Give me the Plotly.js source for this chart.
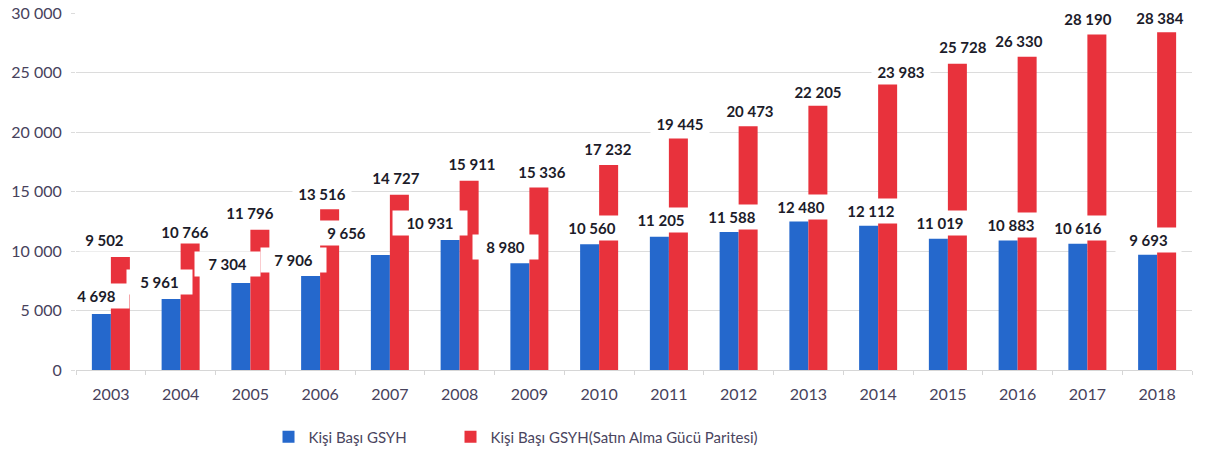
<!DOCTYPE html>
<html>
<head>
<meta charset="utf-8">
<script src="https://cdn.plot.ly/plotly-3.0.1.min.js"></script>
<style>
  html, body { margin: 0; padding: 0; background: #ffffff; }
  #chart { width: 1208px; height: 457px; }
</style>
</head>
<body>
<div id="chart"></div>
<script>
// ---- data ----
var years = ['2003','2004','2005','2006','2007','2008','2009','2010','2011','2012','2013','2014','2015','2016','2017','2018'];
var gsyh = [4698, 5961, 7304, 7906, 9656, 10931, 8980, 10560, 11205, 11588, 12480, 12112, 11019, 10883, 10616, 9693];
var gsyhSAGP = [9502, 10766, 11796, 13516, 14727, 15911, 15336, 17232, 19445, 20473, 22205, 23983, 25728, 26330, 28190, 28384];
var seriesNames = ['Kişi Başı GSYH', 'Kişi Başı GSYH(Satın Alma Gücü Paritesi)'];

// ---- label placement (pixel offsets from category centre / bar top) ----
var blueDx = [-14, -21, -23, -27, -43, -30, -24, -7, -8, -7, -7, -7, -8, -7, -9, -9];
var blueDy = [18, 17, 19, 16, 22, 17, 16, 16, 17, 15, 14, 15, 16, 15, 16, 15];
var redDx  = [-6, 4, 0, 2, 6, 12, 13, 9, 11, 11, 10, 23, 15, 1, 1, 3];
var redDy  = [17, 10, 17, 16, 17, 17, 16, 16, 15, 16, 14, 13, 17, 16, 16, 15];

var BLUE = '#2568CC';
var RED = '#E8323C';
var LABEL_FONT = {family: 'Lato, "Liberation Sans", sans-serif', size: 15, color: '#1c1c2a', weight: 700};

function fmt(v) { return String(v).replace(/\B(?=(\d{3})+(?!\d))/g, ' '); }
function textW(s) {
  var w = 0;
  for (var k = 0; k < s.length; k++) w += (s[k] === ' ') ? 3.2 : 8.8;
  return Math.ceil(w);
}

var traces = [
  {type: 'bar', name: seriesNames[0], x: years, y: gsyh, marker: {color: BLUE}, hoverinfo: 'x+y', legendwidth: 137},
  {type: 'bar', name: seriesNames[1], x: years, y: gsyhSAGP, marker: {color: RED}, hoverinfo: 'x+y'}
];

var annotations = [];
for (var i = 0; i < years.length; i++) {
  var rt = fmt(gsyhSAGP[i]);
  annotations.push({
    x: i, y: gsyhSAGP[i], xref: 'x', yref: 'y',
    text: rt, showarrow: false, xanchor: 'center', yanchor: 'middle',
    xshift: redDx[i], yshift: redDy[i],
    font: LABEL_FONT, bgcolor: '#ffffff', borderpad: 2,
    width: textW(rt) + 6, height: 19
  });
}
for (var j = 0; j < years.length; j++) {
  var bt = fmt(gsyh[j]);
  annotations.push({
    x: j, y: gsyh[j], xref: 'x', yref: 'y',
    text: bt, showarrow: false, xanchor: 'center', yanchor: 'middle',
    xshift: blueDx[j], yshift: blueDy[j],
    font: LABEL_FONT, bgcolor: '#ffffff', borderpad: 2,
    width: textW(bt) + 22, height: 20
  });
}

var tickFont = {family: 'Lato, "Liberation Sans", sans-serif', size: 16, color: '#47425c'};

var layout = {
  width: 1208, height: 457,
  margin: {l: 76, r: 16, t: 13, b: 87, pad: 0, autoexpand: false},
  paper_bgcolor: '#ffffff', plot_bgcolor: '#ffffff',
  separators: ', ',
  barmode: 'group', bargap: 0.455, bargroupgap: 0,
  showlegend: true,
  legend: {
    orientation: 'h', x: 0.1725, xanchor: 'left', y: -0.188, yanchor: 'middle',
    font: {family: 'Lato, "Liberation Sans", sans-serif', size: 15, color: '#4a4560'},
    traceorder: 'normal', bgcolor: 'rgba(0,0,0,0)'
  },
  xaxis: {
    type: 'category', range: [-0.5, 15.5], tickfont: tickFont, showgrid: false,
    showline: true, linecolor: '#d6d6d6', linewidth: 1,
    ticks: 'outside', tickson: 'boundaries', ticklen: 4, tickcolor: '#d6d6d6',
    ticklabelstandoff: 10, zeroline: false
  },
  yaxis: {
    range: [0, 30000], dtick: 5000, tick0: 0, tickformat: ',d',
    tickfont: tickFont, showgrid: true, gridcolor: '#dcdcdc', gridwidth: 1,
    zeroline: false, showline: false, ticks: 'outside', ticklen: 4, tickcolor: '#dcdcdc',
    ticklabelstandoff: 6
  },
  annotations: annotations
};

Plotly.newPlot('chart', traces, layout, {displayModeBar: false, staticPlot: true});
</script>
</body>
</html>
